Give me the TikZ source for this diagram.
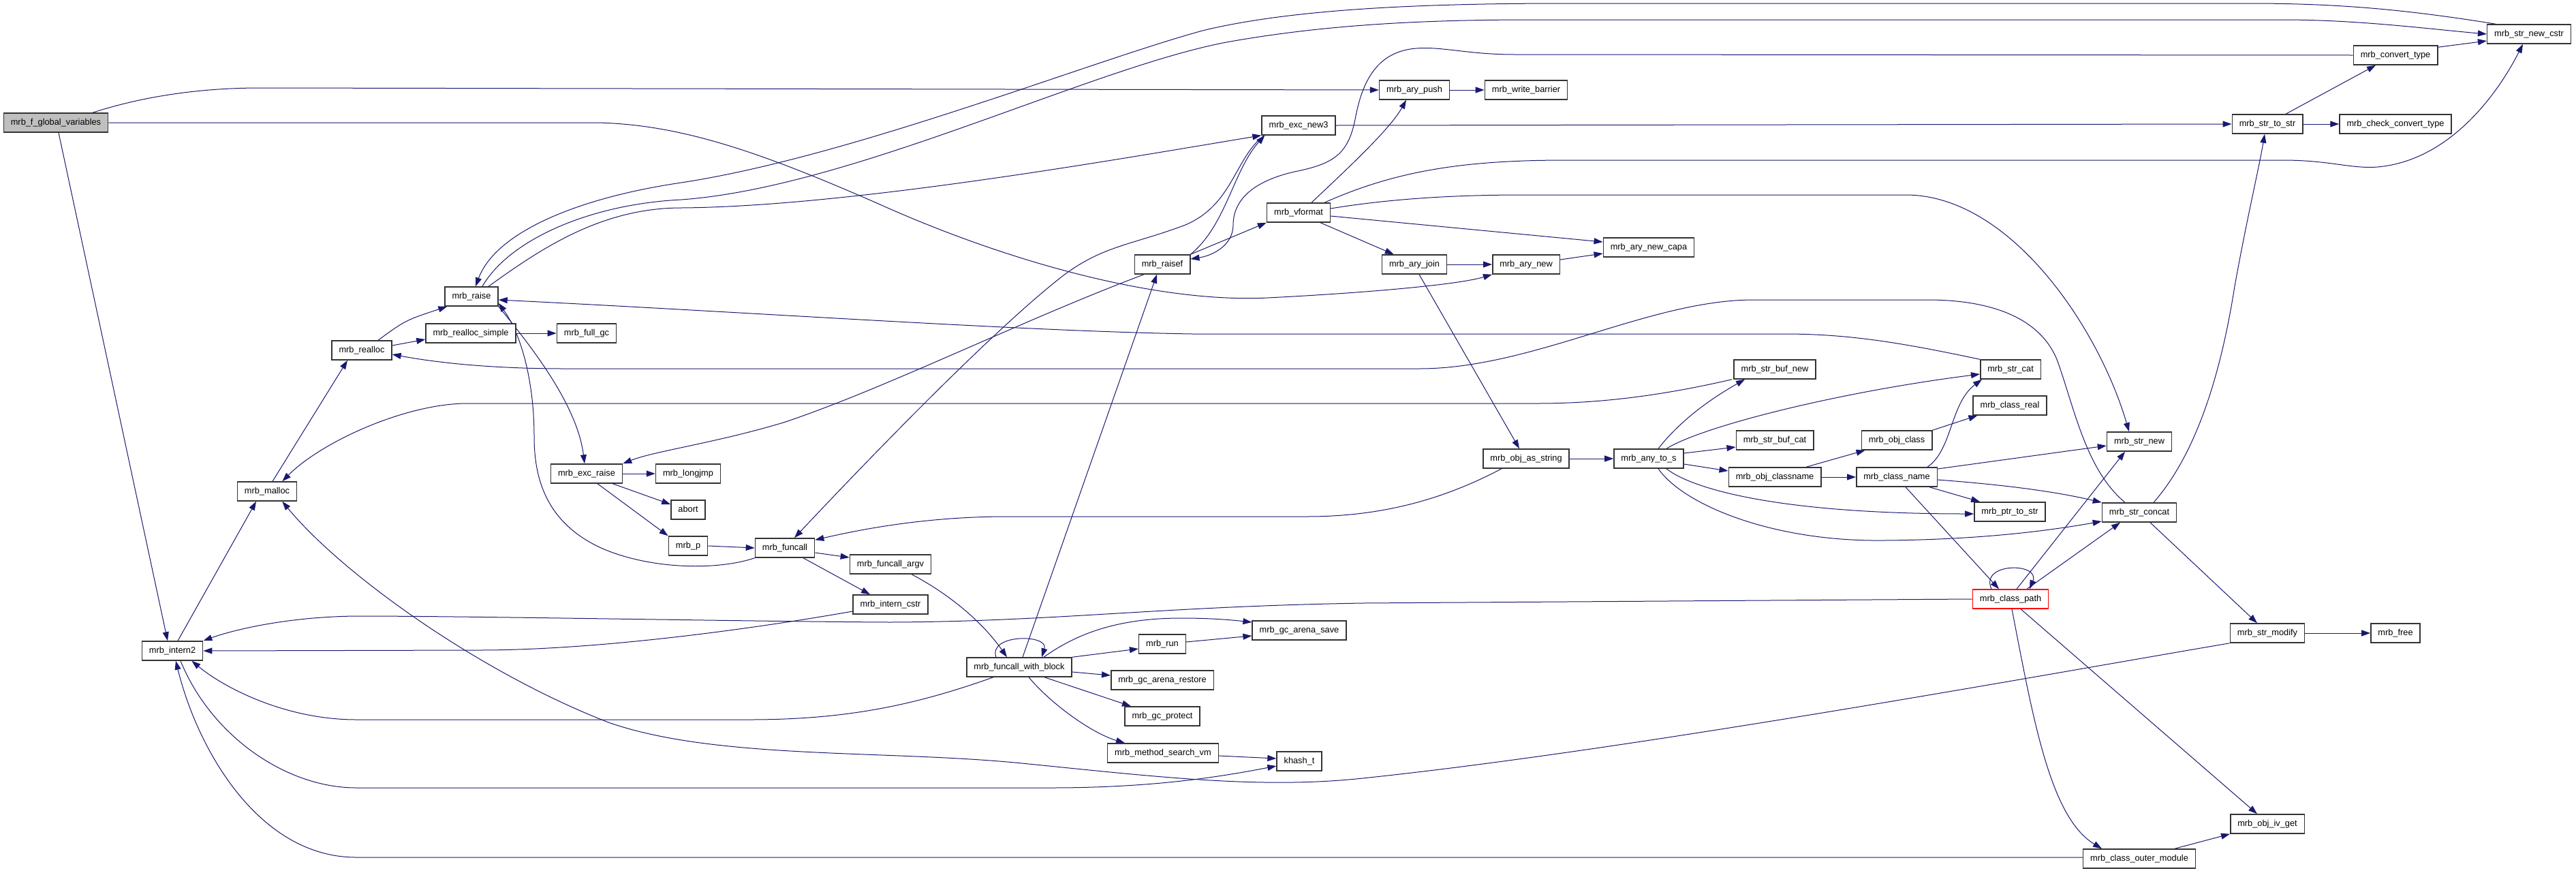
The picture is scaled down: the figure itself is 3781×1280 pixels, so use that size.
\documentclass[tikz,border=0pt]{standalone}
\usepackage{fontspec}
\setmainfont{Liberation Sans}
\usetikzlibrary{arrows.meta}
\definecolor{edgecol}{HTML}{191970}
\definecolor{selfcol}{HTML}{BFBFBF}
\pgfdeclarelayer{bg}
\pgfsetlayers{bg,main}
\tikzset{
  fn/.style={draw=black!80, line width=1.5pt, fill=white, inner xsep=10.5pt, inner ysep=0pt,
    minimum height=28pt, font=\fontsize{12.8}{14}\selectfont, text height=9.6pt, text depth=2.6pt},
  selffn/.style={fn, fill=selfcol},
  redfn/.style={fn, draw=red},
  edge/.style={draw=edgecol, line width=1pt, -{Triangle[length=13pt,width=9pt]}},
}
\begin{document}
\begin{tikzpicture}[x=1pt,y=-1pt]
\useasboundingbox (0,0) rectangle (3781,1280);
\node[selffn] (fgv) at (82,180) {mrb\_f\_global\_variables};
\node[fn] (raise) at (692,435) {mrb\_raise};
\node[fn] (rsimple) at (691,489) {mrb\_realloc\_simple};
\node[fn] (fullgc) at (861,489) {mrb\_full\_gc};
\node[fn] (realloc) at (531,514) {mrb\_realloc};
\node[fn] (malloc) at (392,721) {mrb\_malloc};
\node[fn] (excraise) at (861,695) {mrb\_exc\_raise};
\node[fn] (intern2) at (253,955) {mrb\_intern2};
\node[fn] (excnew3) at (1906,184) {mrb\_exc\_new3};
\node[fn] (vformat) at (1906,312) {mrb\_vformat};
\node[fn] (raisef) at (1706,388) {mrb\_raisef};
\node[fn] (longjmp) at (1010,695) {mrb\_longjmp};
\node[fn] (abort) at (1010,748) {abort};
\node[fn] (mrbp) at (1010,801) {mrb\_p};
\node[fn] (funcall) at (1152,804) {mrb\_funcall};
\node[fn] (fargv) at (1307,828) {mrb\_funcall\_argv};
\node[fn] (interncstr) at (1307,887) {mrb\_intern\_cstr};
\node[fn] (fwb) at (1496,979) {mrb\_funcall\_with\_block};
\node[fn] (gcsave) at (1907,925) {mrb\_gc\_arena\_save};
\node[fn] (run) at (1706,945) {mrb\_run};
\node[fn] (gcrestore) at (1706,998) {mrb\_gc\_arena\_restore};
\node[fn] (gcprotect) at (1706,1051) {mrb\_gc\_protect};
\node[fn] (msvm) at (1707,1105) {mrb\_method\_search\_vm};
\node[fn] (khash) at (1907,1117) {khash\_t};
\node[fn] (arypush) at (2076,132) {mrb\_ary\_push};
\node[fn] (wbarrier) at (2240,132) {mrb\_write\_barrier};
\node[fn] (arycapa) at (2420,363) {mrb\_ary\_new\_capa};
\node[fn] (aryjoin) at (2076,388) {mrb\_ary\_join};
\node[fn] (arynew) at (2240,388) {mrb\_ary\_new};
\node[fn] (strbufnew) at (2605,542) {mrb\_str\_buf\_new};
\node[fn] (strcat) at (2951,542) {mrb\_str\_cat};
\node[fn] (classreal) at (2950,595) {mrb\_class\_real};
\node[fn] (strbufcat) at (2605,646) {mrb\_str\_buf\_cat};
\node[fn] (objclass) at (2784,646) {mrb\_obj\_class};
\node[fn] (objasstr) at (2240,673) {mrb\_obj\_as\_string};
\node[fn] (anytos) at (2420,673) {mrb\_any\_to\_s};
\node[fn] (objclassname) at (2605,700) {mrb\_obj\_classname};
\node[fn] (classname) at (2784,700) {mrb\_class\_name};
\node[fn] (ptrtostr) at (2950,751) {mrb\_ptr\_to\_str};
\node[redfn] (classpath) at (2951,879) {mrb\_class\_path};
\node[fn] (strnewcstr) at (3712,50) {mrb\_str\_new\_cstr};
\node[fn] (convtype) at (3516,81) {mrb\_convert\_type};
\node[fn] (strtostr) at (3328,182) {mrb\_str\_to\_str};
\node[fn] (checkconv) at (3516,182) {mrb\_check\_convert\_type};
\node[fn] (strnew) at (3140,648) {mrb\_str\_new};
\node[fn] (strconcat) at (3140,752) {mrb\_str\_concat};
\node[fn] (strmodify) at (3328,929) {mrb\_str\_modify};
\node[fn] (free) at (3516,929) {mrb\_free};
\node[fn] (objivget) at (3328,1209) {mrb\_obj\_iv\_get};
\node[fn] (outer) at (3140,1260) {mrb\_class\_outer\_module};

\begin{pgfonlayer}{bg}
% mrb_f_global_variables
\draw[edge] ([xshift=54]fgv.north) .. controls (230,135) and (320,129) .. (383,129) -- (arypush.west);
\draw[edge] (fgv.east) -- (874,180) .. controls (1000,182) and (1120,225) .. (1287,298) .. controls (1480,385) and (1700,445) .. (1861,437) .. controls (2000,430) and (2140,418) .. (arynew.south west);
\draw[edge] ([xshift=4]fgv.south) -- ([xshift=-7]intern2.north);
% mrb_raise and neighbours
\draw[edge] (raise.south east) .. controls (790,520) and (848,600) .. ([xshift=-3]excraise.north);
\draw[edge] (funcall.south west) .. controls (1050,838) and (950,835) .. (880,803) .. controls (800,765) and (784,700) .. (784,640) .. controls (784,560) and (765,490) .. ([yshift=5]raise.south east);
\draw[edge] ([xshift=24]realloc.north) .. controls (595,470) .. ([xshift=4]raise.south west);
\draw[edge] ([yshift=7]realloc.east) -- ([yshift=-9]rsimple.west);
\draw[edge] (rsimple.east) -- (fullgc.west);
\draw[edge] ([xshift=8]malloc.north) -- ([xshift=-21]realloc.south);
\draw[edge] ([xshift=8]intern2.north) -- ([xshift=-16]malloc.south);
\draw[edge] ([xshift=-63]strbufnew.south) .. controls (2420,585) and (2330,592) .. (2255,592) -- (682,592) .. controls (590,594) and (470,650) .. ([xshift=-22]malloc.north east);
\draw[edge] (strmodify.south west) .. controls (3000,990) and (2400,1100) .. (2000,1142) .. controls (1850,1158) and (1700,1140) .. (1500,1120) .. controls (1300,1100) and (1050,1115) .. (893,1060) .. controls (700,985) and (500,840) .. ([xshift=-22]malloc.south east);
\draw[edge] ([xshift=-21]strconcat.north) .. controls (3062,690) and (3045,600) .. (3020,530) .. controls (2995,465) and (2920,440) .. (2829,440) -- (2574,440) .. controls (2420,440) and (2250,541) .. (2083,541) -- (829,541) .. controls (720,541) and (640,532) .. ([yshift=-6]realloc.east);
\draw[edge] (strcat.north west) .. controls (2800,505) and (2720,490) .. (2619,490) -- (1750,490) .. controls (1500,486) and (1100,458) .. ([yshift=-5]raise.east);
\draw[edge] ([xshift=-49]strnewcstr.north) .. controls (3520,12) and (3420,5) .. (3300,5) -- (2300,5) .. controls (2100,5) and (1900,12) .. (1765,45) .. controls (1600,90) and (1250,230) .. (1000,268) .. controls (850,290) and (728,340) .. ([xshift=6]raise.north);
\draw[edge] ([xshift=16]raise.north) .. controls (745,355) and (860,300) .. (1000,293) .. controls (1250,275) and (1600,100) .. (1800,62) .. controls (1950,35) and (2100,29) .. (2250,29) -- (3350,29) .. controls (3460,29) and (3560,42) .. (strnewcstr.west);
\draw[edge] ([xshift=25]raise.north) .. controls (790,368) and (880,305) .. (1000,305) .. controls (1250,303) and (1650,232) .. (excnew3.south west);
% mrb_exc_raise
\draw[edge] (excraise.east) -- (longjmp.west);
\draw[edge] ([xshift=-15]excraise.south east) -- ([yshift=8]abort.west);
\draw[edge] ([xshift=16]excraise.south) -- (mrbp.north west);
% mrb_raisef
\draw[edge] ([xshift=-27]raisef.south) .. controls (1500,470) and (1300,570) .. (1150,620) .. controls (1050,650) and (960,662) .. (excraise.north east);
\draw[edge] (raisef.north east) .. controls (1800,330) and (1810,250) .. ([xshift=5]excnew3.south west);
\draw[edge] (raisef.north east) -- (vformat.south west);
\draw[edge] (convtype.west) -- (2223,80) .. controls (2150,80) and (2110,66) .. (2070,72) .. controls (2020,80) and (2000,120) .. (1990,170) .. controls (1980,225) and (1960,240) .. (1900,252) .. controls (1830,268) and (1810,300) .. (1810,330) .. controls (1810,360) and (1780,375) .. ([yshift=8]raisef.east);
% mrb_exc_new3
\draw[edge] ([xshift=4]excnew3.south west) .. controls (1812,232) and (1810,300) .. (1740,330) .. controls (1660,360) and (1620,360) .. (1561,404) .. controls (1450,490) and (1250,700) .. ([xshift=14]funcall.north);
\draw[edge] (excnew3.east) -- (strtostr.west);
% mrb_vformat
\draw[edge] ([xshift=19]vformat.north) .. controls (1975,250) and (2040,190) .. ([xshift=-12]arypush.south);
\draw[edge] ([xshift=38]vformat.north) .. controls (2050,250) and (2150,235) .. (2300,235) -- (3350,235) .. controls (3420,235) and (3450,248) .. (3490,245) .. controls (3600,235) and (3670,130) .. ([xshift=-9]strnewcstr.south);
\draw[edge] ([yshift=6]vformat.east) .. controls (2050,290) and (2150,286) .. (2236,286) -- (2797,286) .. controls (2950,286) and (3080,480) .. ([xshift=-15]strnew.north);
\draw[edge] ([yshift=-5]vformat.east) -- ([yshift=8]arycapa.west);
\draw[edge] ([xshift=32]vformat.south) -- ([xshift=18]aryjoin.north west);
% arrays
\draw[edge] (arypush.east) -- (wbarrier.west);
\draw[edge] (aryjoin.east) -- (arynew.west);
\draw[edge] ([yshift=7]arynew.east) -- ([yshift=-9]arycapa.west);
\draw[edge] ([xshift=7]aryjoin.south) -- ([xshift=-10]objasstr.north);
% mrb_obj_as_string, mrb_any_to_s
\draw[edge] (objasstr.east) -- (anytos.west);
\draw[edge] ([xshift=-36]objasstr.south) .. controls (2120,732) and (2030,758) .. (1918,758) -- (1478,758) .. controls (1350,758) and (1250,780) .. ([yshift=-3]funcall.north east);
\draw[edge] ([xshift=14]anytos.north) .. controls (2470,612) and (2520,580) .. ([xshift=-44]strbufnew.south);
\draw[edge] ([xshift=26]anytos.north) .. controls (2500,625) and (2700,575) .. ([yshift=-7]strcat.west);
\draw[edge] ([yshift=8]anytos.east) -- ([yshift=-10]strbufcat.west);
\draw[edge] ([yshift=-8]anytos.east) -- ([yshift=9]objclassname.west);
\draw[edge] ([xshift=26]anytos.south) .. controls (2480,715) and (2600,754) .. ([yshift=-3]ptrtostr.west);
\draw[edge] ([xshift=14]anytos.south) .. controls (2470,740) and (2600,795) .. (2765,793) .. controls (2900,792) and (3000,780) .. ([yshift=-13]strconcat.west);
% class name
\draw[edge] ([xshift=46]objclassname.north) -- ([xshift=6]objclass.south west);
\draw[edge] (objclassname.east) -- (classname.west);
\draw[edge] (objclass.north east) -- ([xshift=7]classreal.south west);
\draw[edge] ([xshift=45]classname.north) .. controls (2866,660) and (2862,592) .. ([xshift=3]strcat.south west);
\draw[edge] ([xshift=48]classname.south) -- ([xshift=9]ptrtostr.north west);
\draw[edge] ([yshift=12]classname.east) -- ([yshift=-6]strnew.west);
\draw[edge] ([yshift=-4]classname.east) .. controls (2950,712) and (3020,722) .. (strconcat.north west);
\draw[edge] ([xshift=13]classname.south) -- ([xshift=-17]classpath.north);
% mrb_class_path
\draw[edge] ([xshift=-28]classpath.north) .. controls (2905,825) and (2995,825) .. ([xshift=28]classpath.north);
\draw[edge] ([xshift=9]classpath.north) -- ([xshift=-21]strnew.south);
\draw[edge] ([xshift=24]classpath.north) -- ([xshift=-28]strconcat.south);
\draw[edge] ([xshift=15]classpath.south) -- ([xshift=-15]objivget.north);
\draw[edge] ([xshift=2]classpath.south) .. controls (2985,1060) and (3010,1200) .. ([xshift=-55]outer.north);
\draw[edge] (classpath.west) -- (2000,885) .. controls (1700,890) and (1550,912) .. (1306,913) .. controls (1100,912) and (700,904) .. (523,904) .. controls (420,905) and (340,925) .. (intern2.north east);
\draw[edge] ([yshift=2]outer.west) -- (523,1258) .. controls (380,1258) and (290,1100) .. ([xshift=5]intern2.south);
% mrb_intern2
\draw[edge] ([xshift=12]intern2.south) .. controls (310,1080) and (420,1156) .. (523,1156) -- (1542,1156) .. controls (1700,1156) and (1800,1138) .. ([yshift=-7]khash.west);
\draw[edge] ([yshift=-10]interncstr.west) .. controls (1150,915) and (900,954) .. (702,954) -- (intern2.east);
\draw[edge] ([xshift=-38]fwb.south) .. controls (1350,1032) and (1250,1056) .. (1100,1056) -- (523,1056) .. controls (420,1056) and (330,1010) .. ([xshift=-17]intern2.south east);
% mrb_funcall
\draw[edge] ([yshift=-7]funcall.east) -- ([yshift=10]fargv.west);
\draw[edge] ([xshift=27]funcall.south) -- ([xshift=-30]interncstr.north);
\draw[edge] ([xshift=31]fargv.south) .. controls (1390,870) and (1440,910) .. ([xshift=-18]fwb.north);
\draw[edge] (mrbp.east) -- (funcall.west);
% mrb_funcall_with_block
\draw[edge] ([xshift=-34]fwb.north) .. controls (1450,930) and (1540,930) .. ([xshift=33]fwb.north);
\draw[edge] ([xshift=5]fwb.north) -- ([xshift=-8]raisef.south);
\draw[edge] ([xshift=36]fwb.north) .. controls (1580,930) and (1640,907) .. (1734,907) .. controls (1780,907) and (1810,910) .. ([yshift=12]gcsave.west);
\draw[edge] (fwb.north east) -- ([yshift=-7]run.west);
\draw[edge] ([yshift=-7]fwb.east) -- ([yshift=7]gcrestore.west);
\draw[edge] ([xshift=37]fwb.south) -- ([xshift=-46]gcprotect.north);
\draw[edge] ([xshift=14]fwb.south) .. controls (1540,1030) and (1600,1075) .. ([xshift=-56]msvm.north);
\draw[edge] ([yshift=3]run.east) -- ([yshift=-8]gcsave.west);
\draw[edge] ([yshift=-4]msvm.east) -- ([yshift=4]khash.west);
% strings
\draw[edge] ([xshift=27]strtostr.north) -- ([xshift=-29]convtype.south);
\draw[edge] (strtostr.east) -- (checkconv.west);
\draw[edge] ([yshift=-3]convtype.north east) -- ([yshift=-10]strnewcstr.west);
\draw[edge] ([xshift=21]strconcat.north) .. controls (3220,670) and (3258,560) .. (3280,420) .. controls (3298,320) and (3315,250) .. ([xshift=-4]strtostr.south);
\draw[edge] ([xshift=16]strconcat.south) -- ([xshift=-15]strmodify.north);
\draw[edge] (strmodify.east) -- (free.west);
\draw[edge] ([xshift=52]outer.north) -- (objivget.south west);
\end{pgfonlayer}
\end{tikzpicture}
\end{document}
